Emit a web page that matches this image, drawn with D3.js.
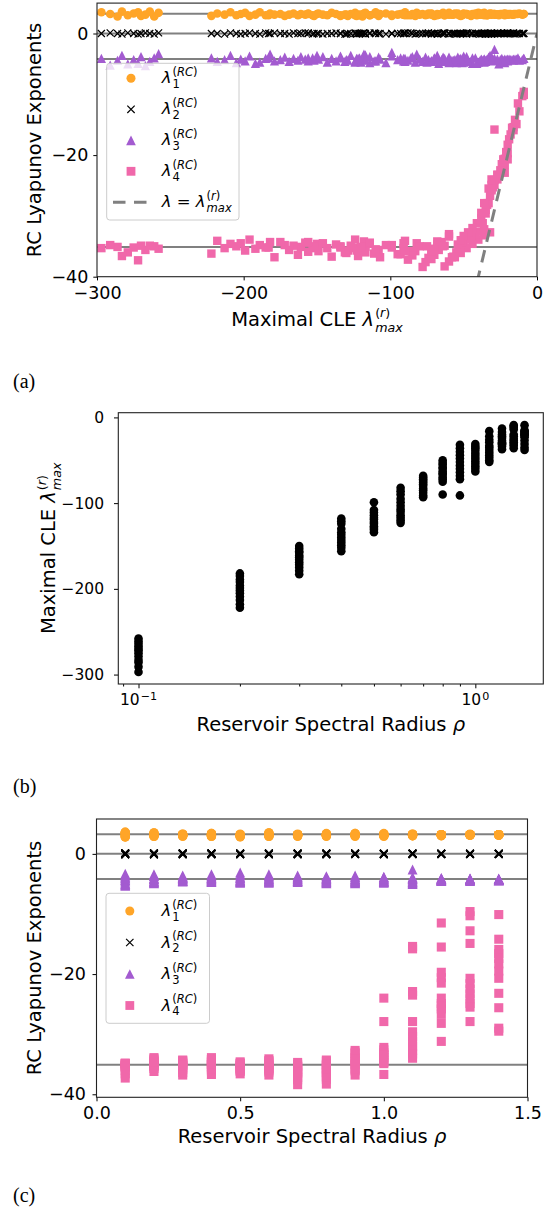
<!DOCTYPE html>
<html>
<head>
<meta charset="utf-8">
<script src="https://cdn.jsdelivr.net/npm/d3@7"></script>
<style>
  body { margin: 0; background: #fff; }
  svg text { font-family: "DejaVu Sans", sans-serif; fill: #000; }
</style>
</head>
<body>
<svg id="fig" width="551" height="1209"></svg>
<script>
// ---- data: one row per spectral radius, one column per reservoir realisation ----
const rhoValues = [0.1, 0.2, 0.3, 0.4, 0.5, 0.6, 0.7, 0.8, 0.9, 1.0, 1.1, 1.2, 1.3, 1.4];

// maximal conditional Lyapunov exponent of the reservoir
const lmaxByRho = [
  [-258, -261, -264, -267, -270, -272, -275, -279, -283, -286, -291, -297],
  [-182, -185, -189, -192, -196, -199, -202, -205, -209, -213, -218, -222],
  [-150, -153, -156, -158, -161, -163, -166, -169, -172, -175, -179, -183],
  [-118, -121, -124, -130, -134, -137, -140, -143, -146, -149, -152, -156],
  [-99, -108, -111, -114, -117, -119, -122, -124, -127, -129, -131, -134],
  [-82, -86, -90, -95, -99, -103, -107, -110, -114, -117, -120, -123],
  [-68, -70, -72, -74, -76, -78, -80, -83, -85, -88, -91, -93],
  [-50, -53, -55, -58, -60, -63, -65, -67, -70, -72, -75, -90],
  [-32, -36, -40, -44, -48, -52, -56, -60, -64, -68, -72, -91],
  [-31, -34, -36, -39, -42, -45, -48, -51, -54, -57, -60, -63],
  [-16, -29, -22, -26, -33, -35, -38, -41, -44, -47, -50, -52],
  [-13, -17, -20, -22, -24, -27, -29, -31, -32, -34, -37, -30],
  [-9, -10, -12, -14, -20, -22, -25, -27, -29, -31, -33, -36],
  [-9, -15, -16, -18, -19, -20, -21, -23, -27, -31, -35, -38]
];

const l1ByRho = [
  [3.4, 2.8, 3.6, 3.1, 2.9, 3.5, 3.3, 3.0, 3.6, 2.8, 3.2, 3.5],
  [3.3, 3.0, 3.5, 3.1, 2.9, 3.4, 3.2, 3.0, 3.5, 3.1, 3.3, 2.9],
  [3.2, 3.0, 3.3, 3.1, 3.2, 3.0, 3.3, 3.1, 2.9, 3.2, 3.1, 3.0],
  [3.3, 3.0, 3.4, 3.1, 2.9, 3.2, 3.4, 3.0, 3.1, 3.3, 2.9, 3.2],
  [3.1, 2.9, 3.2, 3.0, 3.3, 2.8, 3.1, 3.0, 3.2, 2.9, 3.1, 3.0],
  [3.4, 3.0, 3.5, 3.1, 2.9, 3.3, 3.2, 3.5, 3.0, 3.4, 3.1, 2.9],
  [3.2, 3.0, 3.1, 3.3, 3.0, 3.2, 3.1, 2.9, 3.2, 3.0, 3.1, 3.2],
  [3.3, 3.0, 3.2, 3.1, 3.4, 3.0, 3.2, 3.1, 2.9, 3.3, 3.1, 3.0],
  [3.3, 3.0, 3.4, 3.1, 3.2, 2.9, 3.3, 3.1, 3.4, 3.0, 3.2, 3.1],
  [3.2, 3.0, 3.4, 3.1, 3.3, 2.9, 3.2, 3.0, 3.3, 3.1, 3.2, 3.0],
  [3.2, 3.1, 3.3, 3.0, 3.2, 3.1, 3.3, 3.0, 3.2, 3.1, 3.2, 3.0],
  [3.2, 3.1, 3.2, 3.0, 3.2, 3.1, 3.2, 3.1, 3.2, 3.0, 3.1, 3.2],
  [3.2, 3.1, 3.3, 3.2, 3.1, 3.2, 3.2, 3.1, 3.2, 3.2, 3.1, 3.2],
  [3.2, 3.2, 3.1, 3.2, 3.2, 3.1, 3.2, 3.2, 3.1, 3.2, 3.2, 3.1]
];

const l2ByRho = [
  [0.1, -0.1, 0.0, 0.1, 0.0, -0.1, 0.0, 0.1, -0.1, 0.0, 0.1, 0.0],
  [0.0, 0.1, -0.1, 0.0, 0.1, 0.0, -0.1, 0.0, 0.1, -0.1, 0.0, 0.0],
  [0.0, -0.1, 0.0, 0.1, 0.0, 0.0, 0.1, -0.1, 0.0, 0.0, 0.1, 0.0],
  [0.1, 0.0, 0.0, -0.1, 0.0, 0.1, 0.0, 0.0, -0.1, 0.0, 0.0, 0.1],
  [0.0, 0.0, 0.1, 0.0, -0.1, 0.0, 0.0, 0.1, 0.0, 0.0, -0.1, 0.0],
  [0.0, 0.1, 0.0, 0.0, 0.0, -0.1, 0.0, 0.0, 0.1, 0.0, 0.0, -0.1],
  [-0.1, 0.0, 0.0, 0.1, 0.0, 0.0, 0.0, -0.1, 0.0, 0.1, 0.0, 0.0],
  [0.0, 0.0, -0.1, 0.0, 0.0, 0.1, 0.0, 0.0, 0.0, -0.1, 0.0, 0.1],
  [0.0, 0.1, 0.0, 0.0, -0.1, 0.0, 0.0, 0.0, 0.1, 0.0, 0.0, 0.0],
  [0.0, 0.0, 0.0, -0.1, 0.0, 0.0, 0.1, 0.0, 0.0, 0.0, -0.1, 0.0],
  [0.1, 0.0, 0.0, 0.0, 0.0, -0.1, 0.0, 0.0, 0.0, 0.1, 0.0, 0.0],
  [0.0, 0.0, 0.1, 0.0, 0.0, 0.0, 0.0, -0.1, 0.0, 0.0, 0.0, 0.0],
  [0.0, 0.0, 0.0, 0.0, 0.1, 0.0, 0.0, 0.0, 0.0, 0.0, -0.1, 0.0],
  [0.0, -0.1, 0.0, 0.0, 0.0, 0.0, 0.0, 0.0, 0.1, 0.0, 0.0, 0.0]
];

const l3ByRho = [
  [-3.3, -4.0, -4.6, -5.3, -3.8, -4.9, -4.3, -5.0, -3.6, -4.4, -5.2, -4.1],
  [-3.4, -4.1, -4.7, -4.9, -3.7, -4.5, -4.2, -4.8, -3.6, -4.3, -4.6, -4.0],
  [-3.6, -4.0, -4.5, -4.2, -3.8, -4.4, -4.1, -4.6, -3.9, -4.3, -4.5, -4.0],
  [-3.4, -4.0, -4.6, -4.3, -3.7, -4.5, -4.1, -4.7, -3.8, -4.2, -4.4, -4.0],
  [-3.1, -3.9, -4.5, -4.8, -3.5, -4.3, -4.1, -4.7, -3.6, -4.4, -4.6, -4.0],
  [-3.4, -4.0, -4.6, -4.3, -3.7, -4.8, -4.2, -4.5, -3.8, -4.4, -4.7, -4.1],
  [-3.6, -4.1, -4.5, -4.3, -3.9, -4.6, -4.2, -4.7, -3.8, -4.4, -4.5, -4.0],
  [-3.7, -4.2, -4.8, -4.4, -3.9, -4.6, -4.3, -4.9, -4.0, -4.5, -4.7, -4.1],
  [-3.6, -4.2, -4.7, -4.9, -3.8, -4.5, -4.3, -4.8, -3.9, -4.4, -4.6, -4.1],
  [-3.8, -4.3, -4.7, -4.5, -4.0, -4.6, -4.2, -4.8, -3.9, -4.4, -4.6, -4.1],
  [-4.2, -2.6, -4.8, -5.0, -3.9, -4.6, -4.3, -4.9, -4.0, -4.5, -4.7, -4.1],
  [-4.0, -4.3, -4.5, -4.2, -4.1, -4.4, -4.3, -4.5, -4.1, -4.2, -4.4, -4.3],
  [-4.1, -4.3, -4.4, -4.2, -4.2, -4.5, -4.3, -4.4, -4.1, -4.3, -4.4, -4.2],
  [-4.1, -4.2, -4.4, -4.3, -4.2, -4.4, -4.3, -4.4, -4.2, -4.3, -4.4, -4.2]
];

const l4ByRho = [
  [-35.4, -35.0, -34.9, -35.6, -34.9, -37.3, -35.2, -36.0, -36.6, -35.1, -34.8, -35.3],
  [-34.3, -35.2, -34.8, -35.4, -33.9, -35.7, -34.5, -35.0, -34.6, -35.3, -34.1, -36.2],
  [-34.6, -35.3, -35.9, -34.4, -35.1, -36.4, -34.9, -35.6, -34.8, -34.3, -36.8, -35.2],
  [-34.2, -35.5, -33.9, -36.1, -35.0, -34.7, -36.7, -35.3, -34.5, -35.8, -35.0, -34.3],
  [-34.8, -35.6, -36.2, -34.6, -35.1, -35.9, -36.6, -35.3, -34.9, -35.7, -36.0, -35.2],
  [-34.5, -35.8, -34.1, -36.3, -35.2, -34.8, -36.8, -35.5, -34.4, -36.0, -35.1, -35.7],
  [-34.7, -35.4, -36.1, -36.9, -37.6, -38.4, -35.0, -35.8, -36.5, -37.2, -35.3, -36.3],
  [-34.5, -35.2, -36.0, -36.8, -37.5, -38.3, -34.3, -35.6, -36.4, -37.1, -35.0, -35.8],
  [-32.7, -33.2, -33.9, -34.6, -35.3, -36.1, -36.8, -33.0, -35.0, -34.2, -35.8, -34.5],
  [-24.0, -27.9, -32.2, -32.6, -33.1, -33.5, -33.9, -34.3, -34.7, -36.7, -33.4, -34.9],
  [-15.4, -15.8, -22.9, -23.5, -27.9, -29.6, -30.4, -31.2, -32.0, -32.7, -33.3, -34.0],
  [-11.5, -15.5, -19.7, -20.6, -21.5, -24.0, -24.9, -25.8, -26.7, -28.2, -31.2, -25.3],
  [-9.6, -10.3, -12.8, -14.9, -20.7, -21.6, -22.5, -23.3, -24.1, -24.9, -25.5, -27.9],
  [-10.1, -14.2, -15.9, -16.6, -17.4, -18.3, -19.5, -20.7, -23.2, -25.6, -29.0, -29.5]
];

// exponents of the true system (grey horizontal lines)
const trueExponents = [3.25, 0, -4.2, -35.1];

const ticksA_x = [-300, -200, -100, 0];
const ticksA_y = [0, -20, -40];
const ticksB_y = [0, -100, -200, -300];
const ticksB_major = [0.1, 1];
const ticksB_minor = [0.09, 0.2, 0.3, 0.4, 0.5, 0.6, 0.7, 0.8, 0.9];
const ticksC_x = [0, 0.5, 1.0, 1.5];
const ticksC_y = [0, -20, -40];

// ---- drawing ----
const svg = d3.select("#fig");
const MINUS = "\u2212";
const fmtInt = d => (d < 0 ? MINUS : "") + Math.abs(d);
const GREY = "#808080";

const points = [];
rhoValues.forEach((r, i) => {
  lmaxByRho[i].forEach((m, j) => {
    points.push({ rho: r, lmax: m, l1: l1ByRho[i][j], l2: l2ByRho[i][j], l3: l3ByRho[i][j], l4: l4ByRho[i][j] });
  });
});

const series = [
  { key: "l1", shape: "circle", color: "#ffa528", sub: "1" },
  { key: "l2", shape: "x", color: "#000000", sub: "2" },
  { key: "l3", shape: "triangle", color: "#a35bd0", sub: "3" },
  { key: "l4", shape: "square", color: "#f068aa", sub: "4" }
];

function markerPath(shape, h) {
  if (shape === "circle") return `M${h},0A${h},${h} 0 1,1 ${-h},0A${h},${h} 0 1,1 ${h},0Z`;
  if (shape === "square") return `M${-h},${-h}H${h}V${h}H${-h}Z`;
  if (shape === "triangle") return `M0,${-h}L${h},${h}L${-h},${h}Z`;
  return `M${-h},${-h}L${h},${h}M${-h},${h}L${h},${-h}`;
}
const markerSize = { circle: 4.3, square: 4.2, triangle: 4.6, x: 3.5 };

function marker(sel, s, scale) {
  return sel.attr("d", markerPath(s.shape, markerSize[s.shape] * scale))
    .attr("fill", s.shape === "x" ? "none" : s.color)
    .attr("stroke", s.shape === "x" ? s.color : "none")
    .attr("stroke-width", 1.2);
}

// one <text>: main part, then a superscript and subscript stacked at the same x
function mathText(g, o) {
  const grp = g.append("g");
  const t = grp.append("text").attr("font-size", o.size);
  o.pre.forEach(([s, it]) => t.append("tspan").attr("font-style", it ? "italic" : null).text(s));
  const w = t.node().getComputedTextLength();
  const ss = o.size * (o.scriptScale || 0.7);
  const script = (parts, y) => {
    let len = 0;
    parts.forEach(([str, it], k) => {
      const ts = t.append("tspan").attr("font-size", ss).attr("font-style", it ? "italic" : null).text(str);
      if (k === 0) ts.attr("x", w + 1).attr("y", y);
      len += ts.node().getComputedTextLength();
    });
    return len;
  };
  let w2 = 0;
  if (o.sup) w2 = Math.max(w2, script(o.sup, -o.size * (o.supUp || 0.38)));
  if (o.sub) w2 = Math.max(w2, script(o.sub, o.size * (o.subDown || 0.28)));
  const total = w + 1 + w2;
  const shift = o.anchor === "middle" ? -total / 2 : 0;
  grp.attr("transform", `translate(${o.x},${o.y})` + (o.rotate ? ` rotate(${o.rotate})` : "") + ` translate(${shift},0)`);
  return grp;
}

const lamSup = [["(", false], ["RC", true], [")", false]];
const lamMaxSub = [["max", true]];
const lamMaxSup = [["(", false], ["r", true], [")", false]];
const axisLam = { scriptScale: 0.65, supUp: 0.46, subDown: 0.31 };

function styleAxis(sel, fs) {
  sel.select(".domain").remove();
  sel.selectAll("text").attr("font-size", fs).attr("font-family", "DejaVu Sans").attr("fill", "#000");
  sel.selectAll("line").attr("stroke", "#000").attr("stroke-width", 1);
}

function frame(g, x, y) {
  g.append("rect")
    .attr("x", x.range()[0]).attr("y", y.range()[1])
    .attr("width", x.range()[1] - x.range()[0]).attr("height", y.range()[0] - y.range()[1])
    .attr("fill", "none").attr("stroke", "#222").attr("stroke-width", 1.1);
}

function legend(g, box, rowY, tx, mx, extraDash) {
  g.append("rect").attr("x", box[0]).attr("y", box[1]).attr("width", box[2]).attr("height", box[3])
    .attr("rx", 3).attr("fill", "#fff").attr("fill-opacity", 0.8)
    .attr("stroke", "#cccccc").attr("stroke-width", 1);
  series.forEach((s, i) => {
    const y = rowY(i);
    g.append("path").attr("transform", `translate(${mx},${y})`).call(marker, s, 1.05);
    mathText(g, { x: tx, y: y + 5, size: 16.5, pre: [["λ", true]], sup: lamSup, sub: [[s.sub, false]], supUp: 0.45 });
  });
  if (extraDash) {
    const y = rowY(4);
    g.append("line").attr("x1", mx - 18).attr("x2", mx + 16).attr("y1", y).attr("y2", y)
      .attr("stroke", GREY).attr("stroke-width", 3).attr("stroke-dasharray", "12.5,8.5");
    mathText(g, { x: tx, y: y + 5, size: 16.5, pre: [["λ", true], [" = ", false], ["λ", true]], sup: lamMaxSup, sub: lamMaxSub, supUp: 0.45 });
  }
}

// ================= panel (a) =================
const gA = svg.append("g");
const xA = d3.scaleLinear().domain([-300, 0]).range([97, 537]);
const yA = d3.scaleLinear().domain([-40, 5]).range([276.7, 3.1]);

svg.append("clipPath").attr("id", "clipA").append("rect")
  .attr("x", 97).attr("y", 3.1).attr("width", 440).attr("height", 273.6);

gA.append("g").selectAll("line").data(trueExponents).join("line")
  .attr("x1", xA(-300)).attr("x2", xA(0)).attr("y1", d => yA(d)).attr("y2", d => yA(d))
  .attr("stroke", GREY).attr("stroke-width", 2);

series.forEach(s => {
  gA.append("g").selectAll("path").data(points).join("path")
    .attr("transform", d => `translate(${xA(d.lmax)},${yA(d[s.key])})`)
    .call(marker, s, 1);
});

gA.append("line").attr("clip-path", "url(#clipA)")
  .attr("x1", xA(-41)).attr("y1", yA(-41)).attr("x2", xA(0)).attr("y2", yA(0))
  .attr("stroke", GREY).attr("stroke-width", 3).attr("stroke-dasharray", "12.5,8.5");

gA.append("g").attr("transform", "translate(0,276.7)")
  .call(d3.axisBottom(xA).tickValues(ticksA_x).tickFormat(fmtInt).tickSize(3.7).tickPadding(6.5))
  .call(styleAxis, 17.5);
gA.append("g").attr("transform", "translate(97,0)")
  .call(d3.axisLeft(yA).tickValues(ticksA_y).tickFormat(fmtInt).tickSize(3.7).tickPadding(5))
  .call(styleAxis, 17.5);
frame(gA, xA, yA);

legend(gA, [106.7, 63.3, 132.3, 156.7], i => 78.3 + i * 31, 161.7, 131, true);

gA.append("text").attr("transform", "translate(41,140) rotate(-90)")
  .attr("text-anchor", "middle").attr("font-size", 19.5).text("RC Lyapunov Exponents");
mathText(gA, Object.assign({ x: 317, y: 325.7, size: 19.5, anchor: "middle",
  pre: [["Maximal CLE ", false], ["λ", true]], sup: lamMaxSup, sub: lamMaxSub }, axisLam));

// ================= panel (b) =================
const gB = svg.append("g");
const xB = d3.scaleLog().domain([Math.pow(10, -1.06), Math.pow(10, 0.2018)]).range([118.3, 543.3]);
const yB = d3.scaleLinear().domain([-311, 5.5]).range([684, 412.7]);

gB.append("g").selectAll("circle").data(points).join("circle")
  .attr("cx", d => xB(d.rho)).attr("cy", d => yB(d.lmax)).attr("r", 4.3).attr("fill", "#000");

gB.append("g").attr("transform", "translate(0,684)")
  .call(d3.axisBottom(xB).tickValues(ticksB_major).tickFormat("").tickSize(4.3))
  .call(styleAxis, 15.5);
gB.append("g").attr("transform", "translate(0,684)")
  .call(d3.axisBottom(xB).tickValues(ticksB_minor).tickFormat("").tickSize(2.5))
  .call(styleAxis, 15.5);
ticksB_major.forEach(v => {
  mathText(gB, { x: xB(v), y: 705, size: 15.5, anchor: "middle", scriptScale: 0.72, supUp: 0.3,
    pre: [["10", false]], sup: [[v < 1 ? MINUS + "1" : "0", false]] });
});
gB.append("g").attr("transform", "translate(118.3,0)")
  .call(d3.axisLeft(yB).tickValues(ticksB_y).tickFormat(fmtInt).tickSize(4.3).tickPadding(10))
  .call(styleAxis, 15.5);
frame(gB, xB, yB);

mathText(gB, Object.assign({ x: 55, y: 548.3, size: 19.5, anchor: "middle", rotate: -90,
  pre: [["Maximal CLE ", false], ["λ", true]], sup: lamMaxSup, sub: lamMaxSub }, axisLam));
gB.append("text").attr("x", 330.8).attr("y", 730.7).attr("text-anchor", "middle").attr("font-size", 19.5)
  .text("Reservoir Spectral Radius ").append("tspan").attr("font-style", "italic").text("ρ");

// ================= panel (c) =================
const gC = svg.append("g");
const xC = d3.scaleLinear().domain([0, 1.5]).range([96.5, 527.5]);
const yC = d3.scaleLinear().domain([-40.5, 5.8]).range([1097.3, 819]);

gC.append("g").selectAll("line").data(trueExponents).join("line")
  .attr("x1", xC(0)).attr("x2", xC(1.5)).attr("y1", d => yC(d)).attr("y2", d => yC(d))
  .attr("stroke", GREY).attr("stroke-width", 2);

series.forEach(s => {
  gC.append("g").selectAll("path").data(points).join("path")
    .attr("transform", d => `translate(${xC(d.rho)},${yC(d[s.key])})`)
    .call(marker, s, 1.08);
});

gC.append("g").attr("transform", "translate(0,1097.3)")
  .call(d3.axisBottom(xC).tickValues(ticksC_x).tickFormat(d3.format(".1f")).tickSize(4).tickPadding(5.6))
  .call(styleAxis, 17.5);
gC.append("g").attr("transform", "translate(96.5,0)")
  .call(d3.axisLeft(yC).tickValues(ticksC_y).tickFormat(fmtInt).tickSize(4).tickPadding(6.5))
  .call(styleAxis, 17.5);
frame(gC, xC, yC);

legend(gC, [106, 893.3, 103.5, 130], i => 911 + i * 31.5, 161.4, 129.8, false);

gC.append("text").attr("transform", "translate(41,958) rotate(-90)")
  .attr("text-anchor", "middle").attr("font-size", 19.5).text("RC Lyapunov Exponents");
gC.append("text").attr("x", 312).attr("y", 1143.3).attr("text-anchor", "middle").attr("font-size", 19.5)
  .text("Reservoir Spectral Radius ").append("tspan").attr("font-style", "italic").text("ρ");

// ---- panel letters ----
[["(a)", 388], ["(b)", 793], ["(c)", 1201.5]].forEach(([t, y]) => {
  svg.append("text").attr("x", 13).attr("y", y).attr("font-size", 20)
    .style("font-family", "'Liberation Serif', serif").text(t);
});
</script>
</body>
</html>
